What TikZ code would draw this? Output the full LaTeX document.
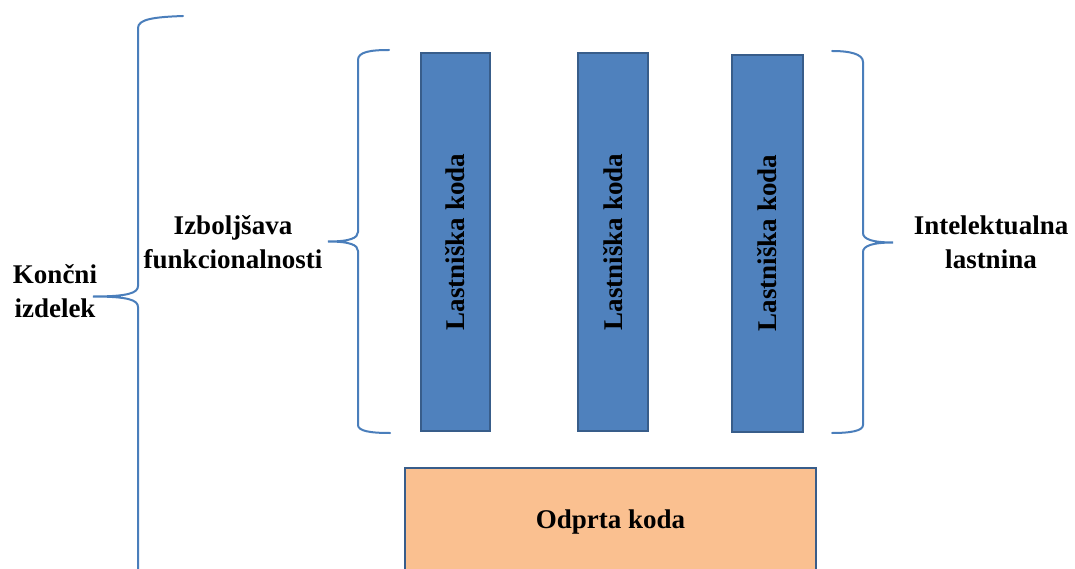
\documentclass[tikz,border=0pt]{standalone}
\usepackage{fontspec}
\setmainfont{Liberation Serif}
\definecolor{bracecol}{HTML}{4A7EBB}
\definecolor{boxblue}{HTML}{4F81BD}
\definecolor{boxedge}{HTML}{385D8A}
\definecolor{boxorange}{HTML}{FAC090}
\begin{document}
\begin{tikzpicture}[x=1pt,y=-1pt,
  brace/.style={draw=bracecol,line width=2pt,line cap=round},
  codebox/.style={draw=boxedge,line width=2.5pt,fill=boxblue},
  openbox/.style={draw=boxedge,line width=2.5pt,fill=boxorange},
  lbl/.style={font=\fontsize{27}{34}\selectfont\bfseries,align=center,inner sep=0pt}]
\clip (0,0) rectangle (1075,569);
\fill[white] (0,0) rectangle (1075,569);
% blue boxes
\draw[codebox] (421,53) rectangle (490,431);
\draw[codebox] (578,53) rectangle (648,431);
\draw[codebox] (732,55) rectangle (803,432);
\node[lbl,rotate=90] (l1) at (455.5,242) {Lastniška koda};
\node[lbl,rotate=90] (l2) at (613,242) {Lastniška koda};
\node[lbl,rotate=90] (l3) at (767.5,243) {Lastniška koda};
% orange box
\draw[openbox] (405,468) rectangle (816,600);
\node[lbl] (open) at (610.5,522) {Odprta koda};
% big left brace
\draw[brace] (183,16) .. controls (155,17) and (138,19) .. (138,28)
  -- (138,286) .. controls (138,293) and (128,296.5) .. (93,296.5)
  .. controls (128,296.5) and (138,300) .. (138,307) -- (138,590);
% inner left brace
\draw[brace] (389,50) .. controls (370,50) and (358,52) .. (358,60)
  -- (358,232) .. controls (358,238) and (350,241.5) .. (328,241.5)
  .. controls (350,241.5) and (358,245) .. (358,251)
  -- (358,425) .. controls (358,431) and (370,433) .. (390,433);
% right brace
\draw[brace] (832,51) .. controls (850,51) and (863,54) .. (863,62)
  -- (863,233) .. controls (863,239) and (872,242.5) .. (893,242.5)
  .. controls (872,242.5) and (863,246) .. (863,252)
  -- (863,425) .. controls (863,431) and (850,433) .. (832,433);
% labels
\node[lbl] (final) at (55,291) {Končni\\izdelek};
\node[lbl] (improve) at (233,242) {Izboljšava\\funkcionalnosti};
\node[lbl] (ip) at (991,242) {Intelektualna\\lastnina};
\end{tikzpicture}
\end{document}
